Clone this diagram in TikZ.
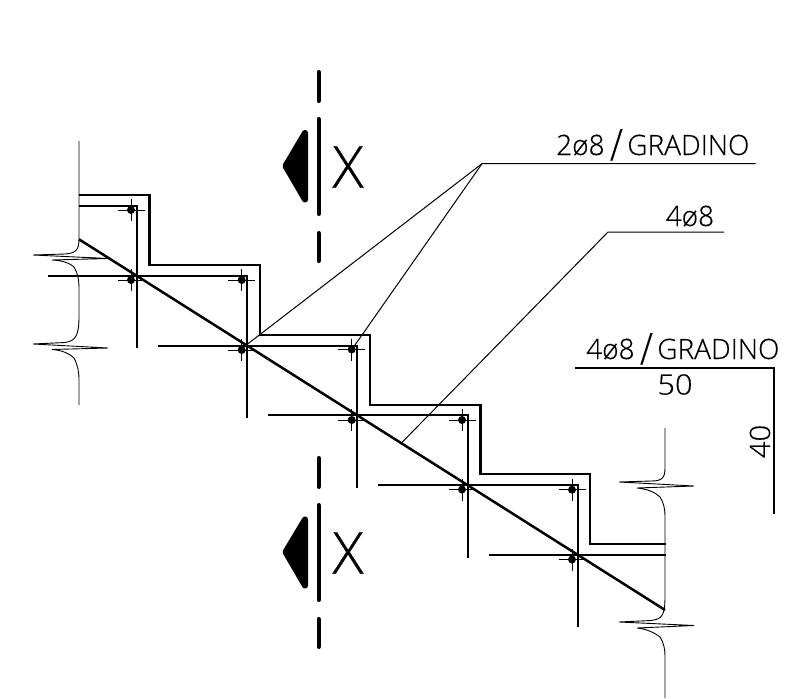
\documentclass[tikz,border=0pt]{standalone}
\usepackage{fontspec}
\setmainfont{Liberation Sans}
\newfontfamily\cadfont[RawFeature={embolden=0.4}]{Open Sans Light}
\tikzset{
  heavy/.style={draw=black,line width=2.5pt,line join=miter},
  thinline/.style={draw=black,line width=1pt},
  breakline/.style={draw=black,line width=0.9pt},
  sectionline/.style={draw=black,line width=4pt,line cap=round},
  marker/.style={fill=black,draw=black,line width=6pt,line join=round},
  label/.style={inner sep=0pt,font=\cadfont\fontsize{28}{28}\selectfont,text=black}
}
\newcommand{\rebar}[2]{%
  \fill[black] (#1,#2) circle (4);
  \draw[thinline] (#1-13.5,#2) -- (#1+13.5,#2);
  \draw[thinline] (#1,#2-11) -- (#1,#2+11);
}
\newcommand{\bigslash}{\kern5.5pt\raisebox{-5.5pt}{\scalebox{.85}[1]{\fontsize{44}{44}\selectfont/}}\kern4.5pt}
\begin{document}
\begin{tikzpicture}[x=1pt,y=-1pt]
\useasboundingbox (0,0) rectangle (802,698);
% break lines
\draw[breakline] (79,141) -- (79,239) .. controls (79,250) and (76,253) .. (65,254) -- (33,255) -- (108,258.5) -- (52,260) .. controls (62,260.5) and (70,263) .. (74,267) .. controls (78,273) and (79,280) .. (79,290) -- (79,316) .. controls (79,335) and (76,341) .. (65,342.5) -- (33,344) -- (108,348) -- (52,349.5) .. controls (62,350) and (70,354) .. (74,358) .. controls (78,366) and (79,372) .. (79,380) -- (79,405);
\draw[breakline] (665,428) -- (665,468) .. controls (665,478) and (662,481) .. (651,481) -- (619,482) -- (694,486) -- (637,488) .. controls (647,489) and (655,492) .. (660,497) .. controls (664,503) and (665,510) .. (665,516) -- (665,596) .. controls (665,616) and (662,619) .. (651,620.5) -- (619,622) -- (694,625.5) -- (637,628) .. controls (647,629) and (655,633) .. (660,637) .. controls (664,643) and (665,650) .. (665,656) -- (665,698);
% outer profile
\draw[heavy] (79,195) -- (149.7,195) -- (149.7,265) -- (260,265) -- (260,335) -- (370,335) -- (370,405) -- (480.7,405) -- (480.7,474) -- (590,474) -- (590,544) -- (666,544);
% inner bars
\draw[heavy] (79,206) -- (137,206) -- (137,348);
\draw[heavy] (48,276) -- (247,276) -- (247,418);
\draw[heavy] (158,346) -- (357,346) -- (357,488);
\draw[heavy] (268,415) -- (468,415) -- (468,558);
\draw[heavy] (378,485) -- (578,485) -- (578,627);
\draw[heavy] (489,555) -- (666,555);
% diagonal
\draw[heavy] (79,239.3) -- (665,610);
% rebars
\rebar{131}{210}\rebar{131}{280}\rebar{241.7}{280}\rebar{241.7}{350}
\rebar{351.7}{349.5}\rebar{351.7}{420}\rebar{462}{420}\rebar{462}{489.5}
\rebar{572}{489.7}\rebar{572}{559.5}
% leaders
\draw[thinline] (755.7,163.7) -- (482,163.7) -- (245,346);
\draw[thinline] (482,163.7) -- (355,345);
\draw[thinline] (724,232) -- (608,232) -- (401.7,442.7);
% right bar schedule
\draw[draw=black,line width=2.2pt,line join=miter] (575,368) -- (774,368) -- (774,514);
% section lines
\draw[sectionline] (318.5,72) -- (318.5,101);
\draw[sectionline] (318.5,119) -- (318.5,214);
\draw[sectionline] (318.5,233) -- (318.5,261);
\draw[sectionline] (318.5,458) -- (318.5,487);
\draw[sectionline] (318.5,505) -- (318.5,600);
\draw[sectionline] (318.5,619) -- (318.5,647);
% markers
\path[marker] (285.5,166) -- (305,133) -- (305,199.5) -- cycle;
\path[marker] (285.5,552) -- (305,519.5) -- (305,585.5) -- cycle;
% text
\node[label,font=\cadfont\fontsize{58}{58}\selectfont] (xa) at (348,167) {X};
\node[label,font=\cadfont\fontsize{58}{58}\selectfont] (xb) at (348,553) {X};
\node[label,anchor=base west] (t1) at (556,155) {2ø8\bigslash GRADINO};
\node[label,anchor=base west] (t2) at (665.5,226) {4ø8};
\node[label,anchor=base west] (t3) at (586,359) {4ø8\bigslash GRADINO};
\node[label,anchor=base] (t4) at (675,394.5) {\scalebox{1.1}[1]{50}};
\node[label,anchor=base,rotate=90] (t5) at (770,441.5) {\scalebox{1.05}[1]{40}};
\end{tikzpicture}
\end{document}
